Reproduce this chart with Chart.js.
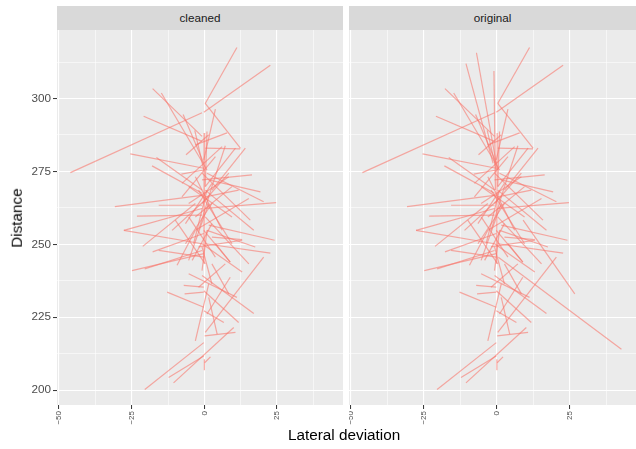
<!DOCTYPE html>
<html>
<head>
<meta charset="utf-8">
<script src="https://cdn.jsdelivr.net/npm/chart.js@4"></script>
<style>
  body { margin: 0; background: #fff; font-family: "Liberation Sans", Arial, sans-serif; }
  #wrap { position: relative; width: 636px; height: 449px; overflow: hidden; }
  canvas { position: absolute; }
  .strip { position: absolute; top: 6px; height: 24px; background: #D9D9D9; color: #1A1A1A;
           font-size: 11.7px; line-height: 24px; text-align: center; }
  .title { position: absolute; color: #000; font-size: 15.3px; white-space: nowrap; }
</style>
</head>
<body>
<div id="wrap">
  <div class="strip" style="left:57px;width:286px">cleaned</div>
  <div class="strip" style="left:349px;width:287px">original</div>
  <canvas id="left" width="343" height="425" style="left:0;top:25px"></canvas>
  <canvas id="right" width="287" height="425" style="left:349px;top:25px"></canvas>
  <div class="title" style="left:288px;top:426px">Lateral deviation</div>
  <div class="title" style="left:-13px;top:209px;transform:rotate(-90deg)">Distance</div>
</div>
<script>
// segments in the cleaned data: start (x1,y1) -> end (x2,y2)
const cleanX1 = [-46.1, 22.7, 11.2, 0.3, -17.8, -14.8, 3.8, -20.9, -7.3, 7.8, -3.3, 0.9, -6.3, -25.5, -16.5, -18.0,
  10.7, 14.1, 7.2, -7.9, 16.4, -30.8, -23.2, -27.7, -27.7, -21.2, -24.9, -20.5, -17.8, -15.7, -9.4, -12.8,
  -7.1, -6.8, -5.4, -0.8, 20.4, -3.1, 0.1, 4.4, 6.7, 11.8, 8.9, -20.5, -12.3, -10.6, 0.0, 0.1,
  -15.7, 15.3, 11.8, 19.3, 20.4, 24.7, 24.2, 22.7, 17.5, 15.3, 17.0, 15.8, 13.0, 8.9, 13.0, 0.3,
  -3.1, -6.5, -5.4, -2.0, 2.6, 3.8, -10.0, -4.2, -0.8, 0.9, 0.1, 2.6, -2.0, -7.7, 8.4, -11.1,
  -7.7, -5.4, -3.1, 2.6, -0.8, 0.9, -2.0, 1.5];
const cleanY1 = [274.6, 311.4, 317.5, 298.3, 303.4, 301.9, 296.4, 293.9, 294.5, 288.2, 289.1, 288.7, 280.7, 281.0, 279.8, 276.9,
  283.0, 283.0, 283.8, 274.1, 273.8, 262.9, 259.7, 254.8, 254.8, 249.3, 241.0, 241.6, 247.4, 247.9, 242.8, 233.6,
  235.9, 233.0, 239.9, 239.3, 245.6, 216.9, 218.6, 219.2, 223.2, 223.2, 238.7, 200.2, 204.3, 202.5, 206.8, 209.4,
  263.4, 265.7, 268.6, 268.0, 264.6, 264.3, 251.4, 247.0, 249.1, 243.3, 254.8, 258.3, 251.4, 243.9, 240.5, 283.0,
  259.4, 250.2, 259.4, 268.6, 252.5, 250.2, 258.3, 244.5, 249.1, 254.8, 288.2, 243.3, 235.3, 270.9, 273.2, 254.8,
  266.3, 269.8, 273.2, 270.9, 264.0, 268.6, 254.8, 264.0];
const cleanX2 = [-0.8, -0.2, 0.3, 12.4, -0.8, 0.9, -0.2, -0.8, -0.2, -3.1, -0.2, 0.3, 1.5, -0.2, -0.8, -0.8,
  0.3, 2.6, 2.6, -0.2, -0.8, -0.2, -0.8, -0.8, -0.8, -3.1, -0.2, -0.8, -0.2, -0.2, -3.1, -0.2,
  -0.2, -0.2, 11.2, 17.0, 0.3, 1.5, 10.7, 1.5, -0.2, -0.2, 0.9, -0.2, -0.2, 10.1, 0.0, 2.1,
  -0.8, -3.1, 0.3, 1.5, 0.9, 0.3, 1.5, 0.3, 0.9, 0.3, 0.3, -0.8, -2.0, -0.2, -0.8, 12.4,
  9.5, 2.6, 3.8, 9.5, 13.0, 8.9, 0.3, 2.6, 2.6, -0.8, -0.1, 8.4, 7.2, 6.1, -5.4, 1.5,
  3.8, 9.5, 6.1, -6.5, 8.4, -3.7, 2.6, -5.4];
const cleanY2 = [295.1, 295.3, 298.3, 283.0, 287.0, 275.5, 279.0, 285.3, 277.8, 284.1, 275.5, 269.8, 287.6, 276.1, 268.6, 267.5,
  269.8, 268.6, 269.8, 275.5, 272.1, 266.9, 260.0, 262.3, 250.2, 264.0, 246.8, 247.9, 253.7, 245.6, 254.8, 228.4,
  235.3, 233.6, 231.8, 226.3, 219.8, 236.4, 219.8, 231.8, 227.2, 234.1, 226.1, 216.3, 211.7, 221.5, 210.6, 211.4,
  263.4, 254.8, 266.3, 272.1, 274.4, 262.3, 256.6, 250.2, 254.8, 259.4, 268.6, 274.4, 249.1, 254.8, 250.2, 282.7,
  269.8, 264.0, 245.6, 250.2, 251.6, 243.9, 243.3, 257.1, 236.4, 241.0, 243.3, 233.0, 243.3, 283.5, 264.0, 266.3,
  280.1, 259.4, 254.8, 257.1, 274.4, 250.2, 269.8, 244.5];

// segments only in the original data
const origX1 = [-7.0, -10.6, -1.0, 0.5, 26.7];
const origY1 = [315.7, 312.0, 309.4, 245.6, 233.0];
const origX2 = [0.2, -1.3, -0.5, 42.7, 9.0];
const origY2 = [275.5, 277.8, 268.6, 214.0, 258.3];

const xMajor = [-50, -25, 0, 25];
const xMinor = [-37.5, -12.5, 12.5, 37.5];
const yMajor = [200, 225, 250, 275, 300];
const yMinor = [212.5, 237.5, 262.5, 287.5, 312.5];

const segColor = "rgba(248,118,109,0.6)";

function segments(x1, y1, x2, y2) {
  return x1.map((v, i) => ({
    data: [{ x: v, y: y1[i] }, { x: x2[i], y: y2[i] }],
    borderColor: segColor,
    borderWidth: 1.2,
    showLine: true,
    pointRadius: 0,
  }));
}

const panelBg = {
  id: "panelBg",
  beforeDraw(chart) {
    const a = chart.chartArea, ctx = chart.ctx;
    ctx.save();
    ctx.fillStyle = "#EBEBEB";
    ctx.fillRect(a.left, a.top, a.right - a.left, a.bottom - a.top);
    ctx.restore();
  }
};

const isMajor = (list, v) => list.includes(v);
const fmt = v => (v < 0 ? "\u2212" + Math.abs(v) : String(v));

function makeChart(id, datasets, showY) {
  new Chart(document.getElementById(id), {
    type: "scatter",
    data: { datasets },
    plugins: [panelBg],
    options: {
      responsive: false,
      animation: false,
      devicePixelRatio: 1,
      layout: { padding: { top: 5, left: 0, right: 0, bottom: 0 } },
      plugins: { legend: { display: false }, tooltip: { enabled: false } },
      scales: {
        x: {
          type: "linear",
          min: -50.7, max: 47.7,
          afterBuildTicks: s => { s.ticks = [...xMajor, ...xMinor].sort((a, b) => a - b).map(v => ({ value: v })); },
          afterFit: s => { s.height = 45; s.paddingLeft = 0; s.paddingRight = 0; },
          border: { display: false },
          grid: {
            color: "#FFFFFF",
            lineWidth: c => (isMajor(xMajor, c.tick.value) ? 1.1 : 0.55),
            tickColor: c => (isMajor(xMajor, c.tick.value) ? "#333333" : "rgba(0,0,0,0)"),
            tickLength: 4,
            tickWidth: 1,
          },
          ticks: {
            autoSkip: false,
            minRotation: 90, maxRotation: 90,
            padding: 2,
            color: "#4D4D4D",
            font: { family: "Liberation Sans", size: 8 },
            callback: v => (isMajor(xMajor, v) ? fmt(v) : ""),
          },
        },
        y: {
          type: "linear",
          min: 194.9, max: 323.5,
          afterBuildTicks: s => { s.ticks = [...yMajor, ...yMinor].sort((a, b) => a - b).map(v => ({ value: v })); },
          afterFit: s => { s.width = showY ? 57 : 0; s.paddingTop = 0; s.paddingBottom = 0; },
          border: { display: false },
          grid: {
            color: "#FFFFFF",
            lineWidth: c => (isMajor(yMajor, c.tick.value) ? 1.1 : 0.55),
            tickColor: c => (showY && isMajor(yMajor, c.tick.value) ? "#333333" : "rgba(0,0,0,0)"),
            tickLength: showY ? 4 : 0,
            drawTicks: showY,
            tickWidth: 1,
          },
          ticks: {
            display: showY,
            autoSkip: false,
            padding: 2,
            color: "#4D4D4D",
            font: { family: "Liberation Sans", size: 11.7 },
            callback: v => (isMajor(yMajor, v) ? String(v) : ""),
          },
        },
      },
    },
  });
}

makeChart("left", segments(cleanX1, cleanY1, cleanX2, cleanY2), true);
makeChart("right", segments(cleanX1.concat(origX1), cleanY1.concat(origY1),
  cleanX2.concat(origX2), cleanY2.concat(origY2)), false);
</script>
</body>
</html>
